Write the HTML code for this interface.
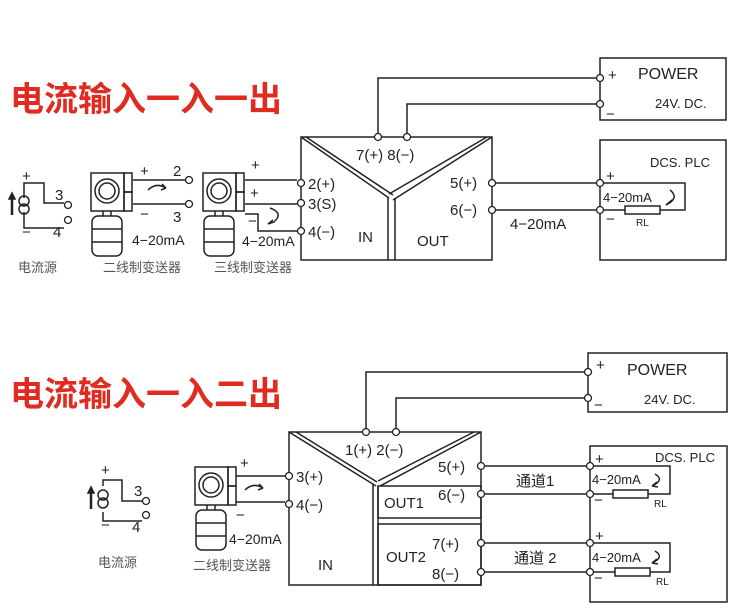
<!DOCTYPE html>
<html><head><meta charset="utf-8"><style>
html,body{margin:0;padding:0;background:#fff;}
svg{display:block;}
text{font-family:"Liberation Sans","Noto Sans CJK SC",sans-serif;fill:#222;}
.t{font-size:15px;}
.cn{font-size:13px;fill:#555;}
</style></head><body>
<svg width="750" height="615" viewBox="0 0 750 615" xmlns="http://www.w3.org/2000/svg">
<defs>
<g id="tx" fill="none" stroke="#222" stroke-width="1.5">
  <rect x="0" y="0" width="33" height="38"/>
  <circle cx="16" cy="18" r="12"/>
  <circle cx="16" cy="18" r="8"/>
  <rect x="33" y="0" width="8" height="19"/>
  <rect x="33" y="19" width="8" height="19"/>
  <path d="M12 38 v5 M20 38 v5"/>
  <rect x="1" y="43" width="30" height="40" rx="6"/>
  <path d="M1 56 h30 M1 69 h30"/>
</g>
<g id="cs" fill="none" stroke="#222" stroke-width="1.5">
  <circle cx="0" cy="-4" r="5"/><circle cx="0" cy="4" r="5"/>
  <path d="M-12 10 v-18" stroke-width="2.5"/>
  <path d="M-15 -6 l3 -6 l3 6z" fill="#222"/>
</g>
</defs>

<g fill="none" stroke="#222" stroke-width="1.5">
<rect x="301" y="137" width="191" height="123"/>
<path d="M301 137 L389 198 M306 137 L393 195 M492 137 L393 200 M487 137 L389 194"/>
<path d="M388 198 V260 M395 198 V260"/>
<path d="M378 137 V78 H600 M407 137 V104 H600"/>
<rect x="600" y="58" width="126" height="62"/>
<rect x="600" y="140" width="126" height="120"/>
<path d="M492 183 H600 M492 210 H600"/>
<path d="M600 183 H685 V210 H660 M625 210 H600"/>
<rect x="625" y="206" width="35" height="8"/>
<path d="M670 190 q10 8 -4 15" /><path d="M666 205 l6 -5" />
<path d="M24 198 V183 H44 V203 H64 M24 212 V228 H64"/>
<path d="M133 180 H185 M133 204 H185"/>
<path d="M148 190 q8 -8 18 -2 l-4 -4 m4 4 l-5 2"/>
<path d="M245 180 H297 M245 204 H297 M245 214 H258 V231 H297"/>
<path d="M270 208 q14 5 4 14 l-6 2 m0 0 l5 -4"/>
<rect x="289" y="432" width="192" height="153"/>
<path d="M289 432 L376 486 M296 432 L377 482 M481 432 L380 486 M474 432 L378 481"/>
<path d="M373 484 V585 M378 486 V585"/>
<rect x="378" y="486" width="103" height="32"/>
<rect x="378" y="524" width="103" height="61"/>
<path d="M366 432 V372 H588 M396 432 V398 H588"/>
<rect x="588" y="353" width="139" height="59"/>
<rect x="590" y="446" width="137" height="156"/>
<path d="M481 466 H590 M481 494 H590 M481 543 H590 M481 572 H590"/>
<path d="M590 466 H670 V494 H648 M613 494 H590"/>
<rect x="613" y="490" width="35" height="8"/>
<path d="M590 543 H670 V572 H650 M615 572 H590"/>
<rect x="615" y="568" width="35" height="8"/>
<path d="M655 474 q10 6 -3 12 l5 -4 m-5 4 l6 1"/>
<path d="M655 551 q10 6 -3 12 l5 -4 m-5 4 l6 1"/>
<path d="M103 486 V480 H122 V501 H142 M103 512 V521 H142"/>
<path d="M236 476 H285 M236 502 H285"/>
<path d="M245 490 q8 -8 18 -2 l-4 -4 m4 4 l-5 2"/>
</g>

<use href="#tx" x="91" y="173"/>
<use href="#tx" x="203" y="173"/>
<use href="#tx" x="195" y="467"/>
<use href="#cs" x="24" y="205"/>
<use href="#cs" x="103" y="499"/>

<g fill="#fff" stroke="#222" stroke-width="1.3">
<circle cx="378" cy="137" r="3.5"/><circle cx="407" cy="137" r="3.5"/>
<circle cx="301" cy="183" r="3.5"/><circle cx="301" cy="203" r="3.5"/><circle cx="301" cy="231" r="3.5"/>
<circle cx="492" cy="183" r="3.5"/><circle cx="492" cy="210" r="3.5"/>
<circle cx="600" cy="78" r="3.5"/><circle cx="600" cy="104" r="3.5"/>
<circle cx="600" cy="183" r="3.5"/><circle cx="600" cy="210" r="3.5"/>
<circle cx="68" cy="205" r="3.5"/><circle cx="68" cy="220" r="3.5"/>
<circle cx="189" cy="180" r="3.5"/><circle cx="189" cy="204" r="3.5"/>
<circle cx="366" cy="432" r="3.5"/><circle cx="396" cy="432" r="3.5"/>
<circle cx="289" cy="476" r="3.5"/><circle cx="289" cy="504" r="3.5"/>
<circle cx="481" cy="466" r="3.5"/><circle cx="481" cy="494" r="3.5"/><circle cx="481" cy="543" r="3.5"/><circle cx="481" cy="572" r="3.5"/>
<circle cx="588" cy="372" r="3.5"/><circle cx="588" cy="398" r="3.5"/>
<circle cx="590" cy="466" r="3.5"/><circle cx="590" cy="494" r="3.5"/><circle cx="590" cy="543" r="3.5"/><circle cx="590" cy="572" r="3.5"/>
<circle cx="146" cy="501" r="3.5"/><circle cx="146" cy="515" r="3.5"/>
</g>

<text x="10" y="111" style="font-size:34px;font-weight:bold;fill:#e02b20">电流输入一入一出</text>
<text x="10" y="406" style="font-size:34px;font-weight:bold;fill:#e02b20">电流输入一入二出</text>

<text class="t" x="356" y="160">7(+)  8(−)</text>
<text class="t" x="308" y="189">2(+)</text>
<text class="t" x="308" y="209">3(S)</text>
<text class="t" x="308" y="237">4(−)</text>
<text class="t" x="358" y="242">IN</text>
<text class="t" x="417" y="246">OUT</text>
<text class="t" x="450" y="188">5(+)</text>
<text class="t" x="450" y="215">6(−)</text>
<text class="t" x="510" y="229">4−20mA</text>
<text class="t" x="608" y="80">+</text>
<text class="t" x="606" y="119">−</text>
<text class="t" x="638" y="79" style="font-size:16px">POWER</text>
<text x="655" y="108" style="font-size:13px">24V. DC.</text>
<text x="650" y="167" style="font-size:13px">DCS. PLC</text>
<text class="t" x="606" y="181">+</text>
<text class="t" x="606" y="224">−</text>
<text x="603" y="202" style="font-size:13px">4−20mA</text>
<text x="636" y="226" style="font-size:10px">RL</text>
<text class="t" x="22" y="181">+</text>
<text class="t" x="22" y="237">−</text>
<text class="t" x="55" y="200">3</text>
<text class="t" x="53" y="237">4</text>
<text class="cn" x="18" y="272">电流源</text>
<text class="t" x="140" y="176">+</text>
<text class="t" x="173" y="176">2</text>
<text class="t" x="140" y="219">−</text>
<text class="t" x="173" y="222">3</text>
<text x="132" y="245" style="font-size:14px">4−20mA</text>
<text class="cn" x="103" y="272">二线制变送器</text>
<text class="t" x="251" y="170">+</text>
<text class="t" x="250" y="198">+</text>
<text class="t" x="248" y="226">−</text>
<text x="242" y="246" style="font-size:14px">4−20mA</text>
<text class="cn" x="214" y="272">三线制变送器</text>

<text class="t" x="345" y="455">1(+)  2(−)</text>
<text class="t" x="296" y="482">3(+)</text>
<text class="t" x="296" y="510">4(−)</text>
<text class="t" x="318" y="570">IN</text>
<text class="t" x="438" y="472">5(+)</text>
<text class="t" x="438" y="500">6(−)</text>
<text class="t" x="384" y="508">OUT1</text>
<text class="t" x="432" y="549">7(+)</text>
<text class="t" x="432" y="579">8(−)</text>
<text class="t" x="386" y="562">OUT2</text>
<text class="t" x="516" y="486">通道1</text>
<text class="t" x="514" y="563">通道 2</text>
<text class="t" x="596" y="370">+</text>
<text class="t" x="594" y="410">−</text>
<text class="t" x="627" y="375" style="font-size:16px">POWER</text>
<text x="644" y="404" style="font-size:13px">24V. DC.</text>
<text x="655" y="462" style="font-size:13px">DCS. PLC</text>
<text class="t" x="595" y="464">+</text>
<text class="t" x="594" y="505">−</text>
<text x="592" y="484" style="font-size:13px">4−20mA</text>
<text x="654" y="507" style="font-size:10px">RL</text>
<text class="t" x="595" y="541">+</text>
<text class="t" x="594" y="583">−</text>
<text x="592" y="562" style="font-size:13px">4−20mA</text>
<text x="656" y="585" style="font-size:10px">RL</text>
<text class="t" x="101" y="475">+</text>
<text class="t" x="101" y="530">−</text>
<text class="t" x="134" y="496">3</text>
<text class="t" x="132" y="532">4</text>
<text class="cn" x="98" y="567">电流源</text>
<text class="t" x="240" y="468">+</text>
<text class="t" x="236" y="520">−</text>
<text x="229" y="544" style="font-size:14px">4−20mA</text>
<text class="cn" x="193" y="570">二线制变送器</text>
</svg>
</body></html>
